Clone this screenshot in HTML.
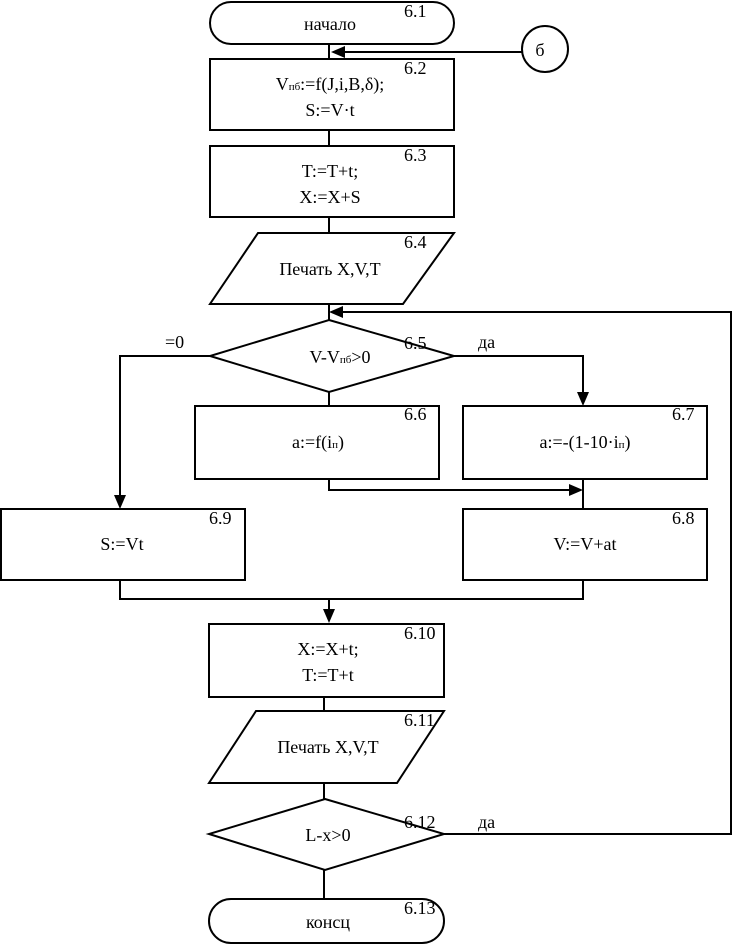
<!DOCTYPE html>
<html><head><meta charset="utf-8"><style>
body{margin:0;background:#fff}
svg text{font-family:"Liberation Serif",serif;font-size:18px;fill:#000}
</style></head><body>
<svg width="733" height="944" viewBox="0 0 733 944" xmlns="http://www.w3.org/2000/svg">
<g fill="none" stroke="#000" stroke-width="2">
<rect x="210" y="2" width="244" height="42" rx="21"/>
<circle cx="545" cy="49" r="23"/>
<line x1="522" y1="52" x2="335" y2="52"/>
<line x1="329" y1="44" x2="329" y2="59"/>
<rect x="210" y="59" width="244" height="71"/>
<line x1="329" y1="130" x2="329" y2="146"/>
<rect x="210" y="146" width="244" height="71"/>
<line x1="329" y1="217" x2="329" y2="233"/>
<polygon points="258,233 454,233 403,304 210,304"/>
<line x1="329" y1="304" x2="329" y2="320"/>
<polyline points="444,834 731,834 731,312 335,312"/>
<polygon points="329,320 454,356 329,392 210,356"/>
<polyline points="210,356 120,356 120,500"/>
<polyline points="454,356 583,356 583,398"/>
<line x1="329" y1="392" x2="329" y2="406"/>
<rect x="195" y="406" width="244" height="73"/>
<rect x="463" y="406" width="244" height="73"/>
<polyline points="329,479 329,490 575,490"/>
<line x1="583" y1="479" x2="583" y2="509"/>
<rect x="1" y="509" width="244" height="71"/>
<rect x="463" y="509" width="244" height="71"/>
<polyline points="120,580 120,599 583,599 583,580"/>
<line x1="329" y1="599" x2="329" y2="615"/>
<rect x="209" y="624" width="235" height="73"/>
<line x1="324" y1="697" x2="324" y2="711"/>
<polygon points="256,711 444,711 397,783 209,783"/>
<line x1="324" y1="783" x2="324" y2="799"/>
<polygon points="325,799 444,834 325,870 209,834"/>
<line x1="324" y1="870" x2="324" y2="899"/>
<rect x="209" y="899" width="235" height="44" rx="22"/>
</g>
<g fill="#000">
<polygon points="331,52 345,46 345,58"/>
<polygon points="329,312 343,306 343,318"/>
<polygon points="120,509 114,495 126,495"/>
<polygon points="583,406 577,392 589,392"/>
<polygon points="583,490 569,484 569,496"/>
<polygon points="329,623 323,609 335,609"/>
</g>
<g text-anchor="middle">
<text x="330" y="30">начало</text>
<text x="540" y="56">б</text>
<text x="330" y="90">V<tspan font-size="11">пб</tspan>:=f(J,i,B,δ);</text>
<text x="330" y="116">S:=V·t</text>
<text x="330" y="177">T:=T+t;</text>
<text x="330" y="203">X:=X+S</text>
<text x="330" y="275">Печать X,V,T</text>
<text x="340" y="363">V-V<tspan font-size="11">пб</tspan>&gt;0</text>
<text x="318" y="448">a:=f(i<tspan font-size="11">п</tspan>)</text>
<text x="585" y="448">a:=-(1-10·i<tspan font-size="11">п</tspan>)</text>
<text x="122" y="550">S:=Vt</text>
<text x="585" y="550">V:=V+at</text>
<text x="328" y="655">X:=X+t;</text>
<text x="328" y="681">T:=T+t</text>
<text x="328" y="753">Печать X,V,T</text>
<text x="328" y="841">L-x&gt;0</text>
<text x="328" y="928">консц</text>
</g>
<g>
<text x="404" y="17">6.1</text>
<text x="404" y="74">6.2</text>
<text x="404" y="161">6.3</text>
<text x="404" y="248">6.4</text>
<text x="404" y="349">6.5</text>
<text x="404" y="420">6.6</text>
<text x="672" y="420">6.7</text>
<text x="672" y="524">6.8</text>
<text x="209" y="524">6.9</text>
<text x="404" y="639">6.10</text>
<text x="404" y="726">6.11</text>
<text x="404" y="828">6.12</text>
<text x="404" y="914">6.13</text>
<text x="165" y="348">=0</text>
<text x="478" y="348">да</text>
<text x="478" y="828">да</text>
</g>
</svg>
</body></html>
